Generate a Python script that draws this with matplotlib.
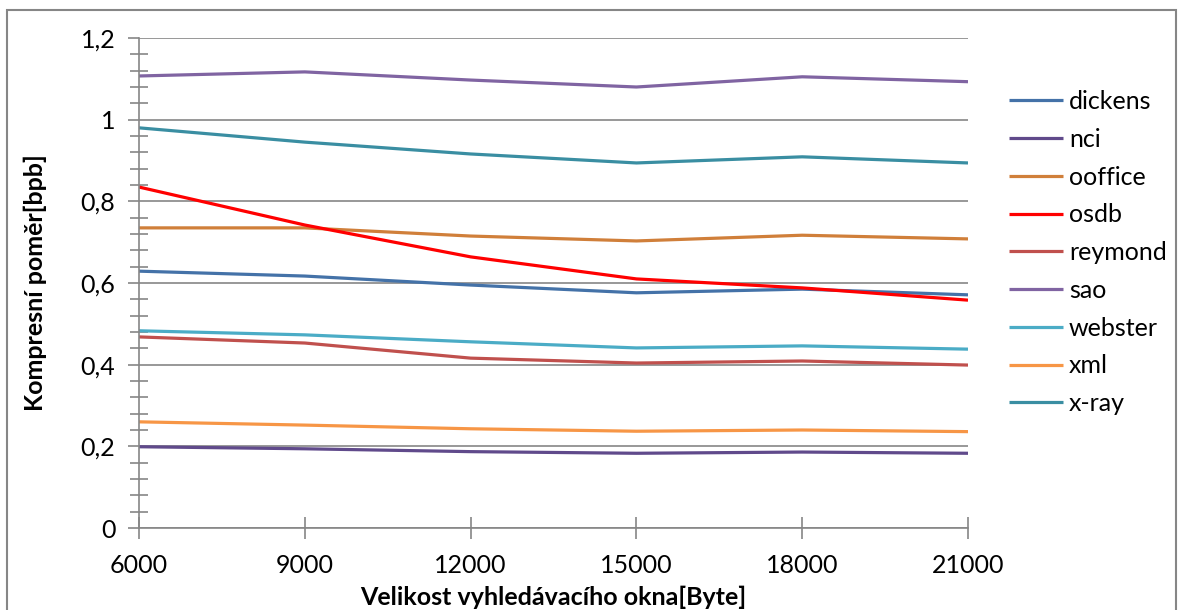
import matplotlib.pyplot as plt
from matplotlib.ticker import FuncFormatter, MultipleLocator
from matplotlib.patches import Rectangle

# window sizes [Byte]
window = [6000, 9000, 12000, 15000, 18000, 21000]

dickens = [0.629, 0.617, 0.595, 0.576, 0.585, 0.571]
nci = [0.199, 0.194, 0.187, 0.183, 0.186, 0.183]
ooffice = [0.735, 0.735, 0.715, 0.703, 0.717, 0.708]
osdb = [0.835, 0.742, 0.664, 0.610, 0.588, 0.558]
reymond = [0.468, 0.453, 0.416, 0.404, 0.409, 0.399]
sao = [1.107, 1.117, 1.097, 1.080, 1.105, 1.093]
webster = [0.483, 0.473, 0.456, 0.441, 0.446, 0.438]
xml = [0.260, 0.252, 0.243, 0.237, 0.240, 0.236]
xray = [0.980, 0.945, 0.916, 0.894, 0.909, 0.894]

series = [
    ("dickens", dickens, "#4472A8"),
    ("nci", nci, "#604A8B"),
    ("ooffice", ooffice, "#D07F3A"),
    ("osdb", osdb, "#FF0000"),
    ("reymond", reymond, "#C0504D"),
    ("sao", sao, "#8064A2"),
    ("webster", webster, "#4BACC6"),
    ("xml", xml, "#F79646"),
    ("x-ray", xray, "#3A8EA2"),
]

plt.rcParams['font.family'] = ['Lato', 'DejaVu Sans']

fig = plt.figure(figsize=(11.82, 6.10), dpi=100)
ax = fig.add_axes([139 / 1182, 82 / 610, 829 / 1182, 490 / 610])

for name, vals, col in series:
    ax.plot(window, vals, color=col, lw=2.3, label=name, solid_capstyle='butt')

grid_col = "#868686"
ax.set_xlim(6000, 21000)
ax.set_ylim(0, 1.2)
ax.xaxis.set_major_locator(MultipleLocator(3000))
ax.yaxis.set_major_locator(MultipleLocator(0.2))
ax.yaxis.set_minor_locator(MultipleLocator(0.04))
ax.yaxis.set_major_formatter(FuncFormatter(
    lambda v, p: ("%g" % round(v, 2)).replace(".", ",")))
ax.grid(axis='y', which='major', color=grid_col, lw=1.2)
ax.set_axisbelow(True)

for s in ['top', 'right']:
    ax.spines[s].set_visible(False)
for s in ['left', 'bottom']:
    ax.spines[s].set_color(grid_col)
    ax.spines[s].set_linewidth(1.2)

ax.tick_params(axis='y', which='major', direction='out', length=8, width=1.2,
               color=grid_col, labelsize=18, pad=9)
ax.tick_params(axis='y', which='minor', direction='inout', length=13, width=1.2,
               color=grid_col)
ax.tick_params(axis='x', which='major', direction='inout', length=16, width=1.2,
               color=grid_col, labelsize=18, pad=11)

ax.set_xlabel("Velikost vyhledávacího okna[Byte]", fontsize=18, fontweight='bold',
              labelpad=6)
ax.set_ylabel("Kompresní poměr[bpb]", fontsize=18, fontweight='bold', labelpad=24)

ax.legend(loc='center left', bbox_to_anchor=(1.022, 0.562), frameon=False,
          fontsize=18, handlelength=2.16, labelspacing=0.59, handletextpad=0.25)

# outer chart frame, bottom edge runs past the image like in the original
fig.patches.append(Rectangle((7 / 1182, -0.02), 1169 / 1182, 1.003,
                             transform=fig.transFigure, fill=False,
                             edgecolor=grid_col, lw=1.5))

fig.savefig("out.png", dpi=100)
